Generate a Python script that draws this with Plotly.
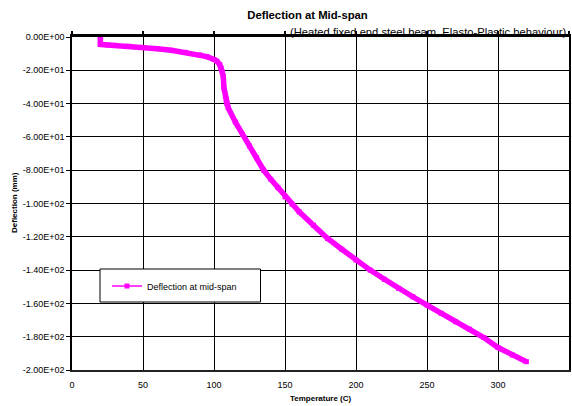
import plotly.graph_objects as go

# Data
temperature_c = [20, 20, 20, 25, 30, 40, 50, 60, 70, 80, 90, 95, 100, 102, 104, 105,
                 106, 106.5, 107, 108, 108.5, 109, 110, 115, 120, 125, 130, 135, 140,
                 145, 150, 155, 160, 170, 180, 190, 200, 210, 220, 230, 240, 250, 260,
                 270, 280, 290, 300, 310, 320]
deflection_mm = [0, -2.0, -4.5, -4.8, -5.0, -5.6, -6.3, -7.0, -8.0, -9.2, -10.8, -11.8,
                 -13.5, -14.5, -16.5, -18.5, -21.0, -23.5, -30.5, -35.5, -38.0, -40.0,
                 -42.5, -51.0, -58.5, -65.5, -72.5, -80.0, -85.5, -90.5, -96.0, -100.5,
                 -105.0, -113.0, -121.0, -127.5, -134.0, -140.0, -145.5, -151.0, -156.0,
                 -161.0, -166.0, -171.0, -175.5, -180.5, -186.5, -191.0, -195.0]

x_ticks = [0, 50, 100, 150, 200, 250, 300, 350]
y_ticks = [0, -20, -40, -60, -80, -100, -120, -140, -160, -180, -200]
y_tick_labels = ["0.00E+00", "-2.00E+01", "-4.00E+01", "-6.00E+01", "-8.00E+01",
                 "-1.00E+02", "-1.20E+02", "-1.40E+02", "-1.60E+02", "-1.80E+02",
                 "-2.00E+02"]

MAG = "#FF00FF"
FONT = "Liberation Sans, Arial, sans-serif"

fig = go.Figure()
fig.add_trace(go.Scatter(
    x=temperature_c, y=deflection_mm, mode="lines+markers",
    line=dict(color=MAG, width=5.5),
    marker=dict(symbol="square", size=5, color=MAG),
    showlegend=False, hoverinfo="x+y"))
# legend entry (thin line with square marker, as in the reference legend)
fig.add_trace(go.Scatter(
    x=[None], y=[None], mode="lines+markers", name="Deflection at mid-span",
    line=dict(color=MAG, width=1.5),
    marker=dict(symbol="square", size=5, color=MAG)))
fig.add_trace(go.Scatter(x=[None], y=[None], xaxis="x2", showlegend=False))

L, R, T, B = 72, 3, 37, 36
W, H = 572, 406
PW, PH = W - L - R, H - T - B

def px(x):
    return (x - L) / PW

def py(y):
    return (H - B - y) / PH

fig.update_layout(
    width=W, height=H,
    margin=dict(l=L, r=R, t=T, b=B, autoexpand=False),
    paper_bgcolor="white", plot_bgcolor="white",
    font=dict(family=FONT, size=9, color="black"),
    title=dict(text="<b>Deflection at Mid-span</b>", x=307.5 / W, xanchor="center",
               y=1 - 15 / H, yanchor="middle", font=dict(size=11.3, family=FONT)),
    xaxis=dict(range=[0, 350], tickvals=x_ticks, ticks="outside", ticklen=5,
               tickcolor="rgba(0,0,0,0)", showgrid=True, gridcolor="black", gridwidth=1,
               showline=True, linecolor="#222", linewidth=2, zeroline=False,
               automargin=False, tickfont=dict(size=9)),
    xaxis2=dict(range=[0, 350], overlaying="x", side="top", tickvals=x_ticks,
                ticks="outside", ticklen=3, tickcolor="black", tickwidth=1.5,
                showticklabels=False, showgrid=False, showline=True,
                linecolor="black", linewidth=2.5, zeroline=False, automargin=False),
    yaxis=dict(range=[-200, 0], tickvals=y_ticks, ticktext=y_tick_labels,
               ticks="outside", ticklen=4, tickcolor="black", showgrid=True,
               gridcolor="black", gridwidth=1, showline=True, linecolor="black",
               linewidth=1.5, mirror=True, zeroline=False, automargin=False,
               tickfont=dict(size=9)),
    legend=dict(x=px(107), y=py(286), xanchor="left", yanchor="middle",
                bgcolor="rgba(0,0,0,0)", borderwidth=0, font=dict(size=9)),
    shapes=[dict(type="rect", xref="paper", yref="paper", x0=px(100), x1=px(260.5),
                 y0=py(302), y1=py(269), line=dict(color="black", width=1),
                 fillcolor="white", layer="above")],
    annotations=[
        dict(text="(Heated fixed end steel beam, Elasto-Plastic behaviour)",
             xref="paper", yref="paper", x=px(568), y=py(32),
             xanchor="right", yanchor="middle", showarrow=False,
             font=dict(size=11.2, family=FONT)),
        dict(text="<b>Temperature (C)</b>", xref="paper", yref="paper",
             x=px(320.5), y=py(398), xanchor="center", yanchor="middle",
             showarrow=False, font=dict(size=8, family=FONT)),
        dict(text="<b>Deflection (mm)</b>", xref="paper", yref="paper",
             x=px(14), y=py(203), xanchor="center", yanchor="middle",
             textangle=-90, showarrow=False, font=dict(size=8, family=FONT)),
    ],
)

fig.write_html("out.html", config={"displayModeBar": False},
               post_script="document.body.style.margin='0';")
